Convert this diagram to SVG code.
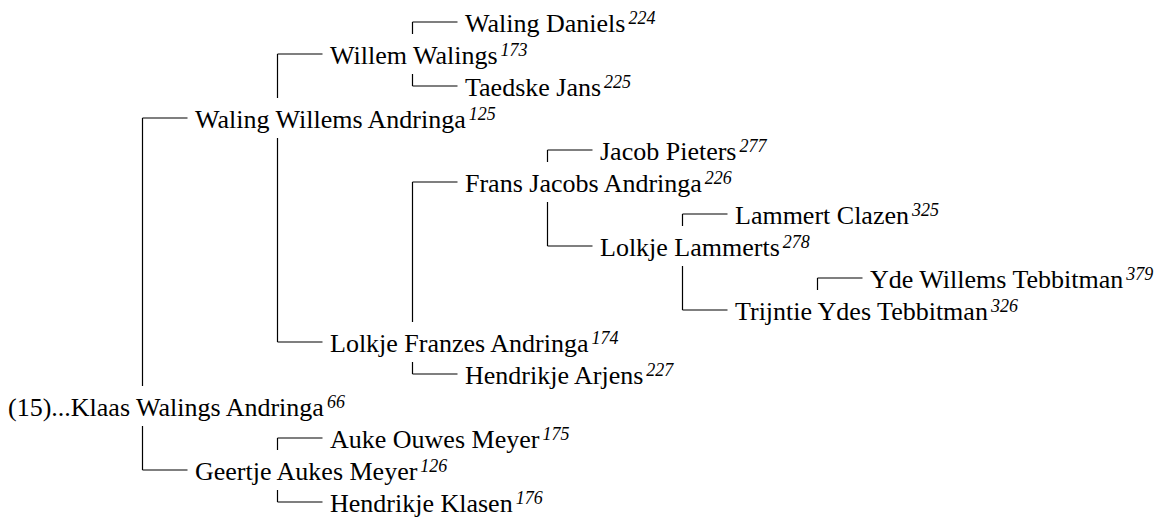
<svg xmlns="http://www.w3.org/2000/svg" width="1166" height="522" viewBox="0 0 1166 522">
<style>
text{font-family:'Liberation Serif','Times New Roman',serif;font-size:26px;fill:#000}
.s{font-style:italic;font-size:18px}
.c path{fill:none;stroke:#000;stroke-width:1.2}
</style>
<rect width="1166" height="522" fill="#fff"/>
<g class="c" id="connectors">
<path d="M142.5,118H187.5M142.5,118V386M142.5,426V470M142.5,470H187.5"/>
<path d="M277.5,54H322.5M277.5,54V98M277.5,138V342M277.5,342H322.5"/>
<path d="M412.5,22H457.5M412.5,22V34M412.5,74V86M412.5,86H457.5"/>
<path d="M412.5,182H457.5M412.5,182V322M412.5,362V374M412.5,374H457.5"/>
<path d="M547.5,150H592.5M547.5,150V162M547.5,202V246M547.5,246H592.5"/>
<path d="M682.5,214H727.5M682.5,214V226M682.5,266V310M682.5,310H727.5"/>
<path d="M817.5,278H862.5M817.5,278V290"/>
<path d="M277.5,438H322.5M277.5,438V450M277.5,490V502M277.5,502H322.5"/>
</g>
<g id="n224"><text x="465" y="32">Waling Daniels<tspan class="s" dx="3" dy="-8">224</tspan></text></g>
<g id="n173"><text x="330" y="64">Willem Walings<tspan class="s" dx="3" dy="-8">173</tspan></text></g>
<g id="n225"><text x="465" y="96">Taedske Jans<tspan class="s" dx="3" dy="-8">225</tspan></text></g>
<g id="n125"><text x="195" y="128">Waling Willems Andringa<tspan class="s" dx="3" dy="-8">125</tspan></text></g>
<g id="n277"><text x="600" y="160">Jacob Pieters<tspan class="s" dx="3" dy="-8">277</tspan></text></g>
<g id="n226"><text x="465" y="192">Frans Jacobs Andringa<tspan class="s" dx="3" dy="-8">226</tspan></text></g>
<g id="n325"><text x="735" y="224">Lammert Clazen<tspan class="s" dx="3" dy="-8">325</tspan></text></g>
<g id="n278"><text x="600" y="256">Lolkje Lammerts<tspan class="s" dx="3" dy="-8">278</tspan></text></g>
<g id="n379"><text x="870" y="288">Yde Willems Tebbitman<tspan class="s" dx="3" dy="-8">379</tspan></text></g>
<g id="n326"><text x="735" y="320">Trijntie Ydes Tebbitman<tspan class="s" dx="3" dy="-8">326</tspan></text></g>
<g id="n174"><text x="330" y="352">Lolkje Franzes Andringa<tspan class="s" dx="3" dy="-8">174</tspan></text></g>
<g id="n227"><text x="465" y="384">Hendrikje Arjens<tspan class="s" dx="3" dy="-8">227</tspan></text></g>
<g id="n66"><text x="8" y="416">(15)...Klaas Walings Andringa<tspan class="s" dx="3" dy="-8">66</tspan></text></g>
<g id="n175"><text x="330" y="448">Auke Ouwes Meyer<tspan class="s" dx="3" dy="-8">175</tspan></text></g>
<g id="n126"><text x="195" y="480">Geertje Aukes Meyer<tspan class="s" dx="3" dy="-8">126</tspan></text></g>
<g id="n176"><text x="330" y="512">Hendrikje Klasen<tspan class="s" dx="3" dy="-8">176</tspan></text></g>
</svg>
